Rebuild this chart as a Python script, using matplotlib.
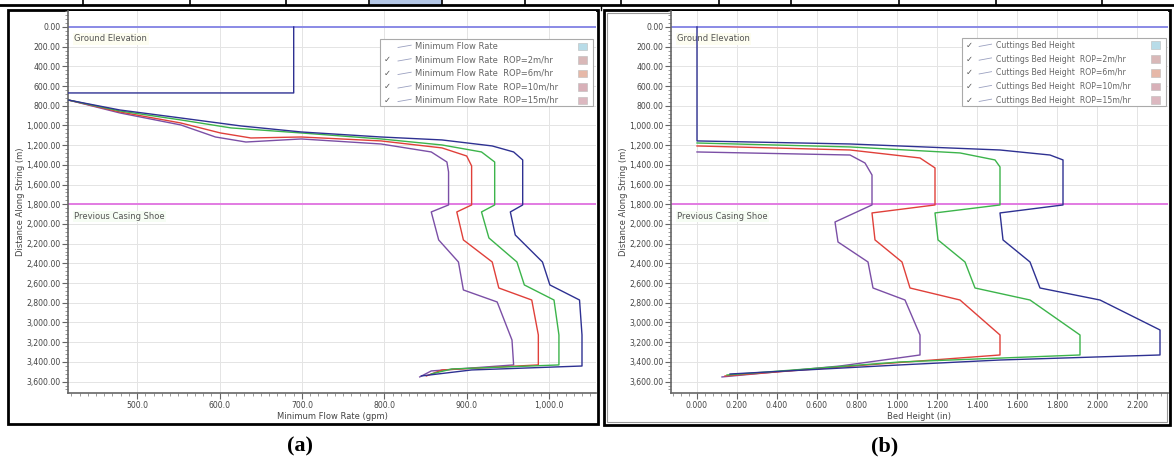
import matplotlib
matplotlib.use("Agg")
import matplotlib.pyplot as plt
from matplotlib.ticker import MultipleLocator, FuncFormatter
from matplotlib.patches import Rectangle

# ---- data: panel (a) minimum flow rate (gpm) vs distance along string (m)
rop_labels = ["ROP=2m/hr", "ROP=6m/hr", "ROP=10m/hr", "ROP=15m/hr"]

a_depth_rop2 = [741, 873, 995, 1117, 1168, 1137, 1188, 1269, 1371, 1472, 1807, 1878, 2162, 2386, 2670, 2792, 3178, 3431, 3492, 3553]
a_flow_rop2 = [416, 479, 553, 595, 632, 699, 796, 857, 876, 878, 878, 857, 866, 890, 896, 937, 955, 957, 857, 843]

a_depth_rop6 = [741, 863, 975, 1076, 1127, 1117, 1157, 1228, 1310, 1411, 1807, 1878, 2162, 2386, 2650, 2772, 3127, 3431, 3482, 3543]
a_flow_rop6 = [416, 479, 553, 601, 638, 699, 796, 870, 900, 906, 906, 888, 896, 931, 939, 979, 987, 987, 870, 851]

a_depth_rop10 = [741, 853, 944, 1025, 1076, 1137, 1198, 1269, 1371, 1807, 1878, 2142, 2386, 2619, 2772, 3127, 3431, 3472, 3523]
a_flow_rop10 = [416, 479, 553, 614, 699, 796, 870, 918, 934, 934, 918, 927, 961, 970, 1006, 1012, 1012, 882, 857]

a_depth_rop15 = [0, 670, 670, 720, 741, 843, 924, 1005, 1066, 1117, 1147, 1208, 1269, 1350, 1807, 1878, 2112, 2386, 2619, 2772, 3127, 3442, 3482, 3543]
a_flow_rop15 = [690, 690, 400, 400, 416, 479, 553, 626, 699, 796, 870, 931, 957, 968, 968, 953, 959, 992, 1001, 1037, 1040, 1040, 906, 845]

# ---- data: panel (b) cuttings bed height (in) vs distance along string (m)
b_depth_rop2 = [1269, 1300, 1381, 1503, 1807, 1980, 2183, 2386, 2650, 2772, 3127, 3330, 3442, 3553]
b_bed_rop2 = [0.0, 0.765, 0.84, 0.875, 0.875, 0.69, 0.705, 0.855, 0.88, 1.04, 1.115, 1.115, 0.715, 0.125]

b_depth_rop6 = [1208, 1249, 1330, 1431, 1807, 1888, 2162, 2386, 2650, 2772, 3127, 3330, 3421, 3543]
b_bed_rop6 = [0.0, 0.765, 1.115, 1.19, 1.19, 0.875, 0.89, 1.025, 1.065, 1.315, 1.515, 1.515, 0.915, 0.14]

b_depth_rop10 = [1178, 1218, 1279, 1350, 1421, 1807, 1888, 2162, 2386, 2650, 2772, 3127, 3330, 3401, 3533]
b_bed_rop10 = [0.0, 0.765, 1.315, 1.49, 1.515, 1.515, 1.19, 1.205, 1.34, 1.39, 1.665, 1.915, 1.915, 1.015, 0.15]

b_depth_rop15 = [0, 1157, 1188, 1249, 1300, 1350, 1807, 1888, 2162, 2386, 2650, 2772, 3076, 3330, 3381, 3431, 3523]
b_bed_rop15 = [0.0, 0.0, 0.765, 1.515, 1.765, 1.83, 1.83, 1.515, 1.53, 1.665, 1.715, 2.015, 2.315, 2.315, 1.515, 1.015, 0.165]

ground_elevation = 0
casing_shoe = 1800

line_colors = ["#7b4fa6", "#e0403a", "#3cb44b", "#2e3192"]
legend_swatches = ["#b8dce8", "#d9b8b8", "#e6b8a8", "#d8b0b8", "#dcb8c0"]

W, H = 1174, 461
fig = plt.figure(figsize=(W / 100, H / 100), dpi=100)

# page decorations (pixel coordinates overlay)
bg = fig.add_axes([0, 0, 1, 1], zorder=-5)
bg.set_xlim(0, W)
bg.set_ylim(H, 0)
bg.axis("off")
bg.plot([0, W], [5, 5], color="black", lw=2)
for xv in [83, 190, 286, 369, 442, 525, 621, 719, 791, 899, 996, 1102]:
    bg.plot([xv, xv], [0, 5], color="black", lw=1.2)
bg.add_patch(Rectangle((370, 0), 71, 4.5, color="#b4c7e7"))
bg.add_patch(Rectangle((8, 10), 590, 414, fill=False, ec="black", lw=2))
bg.add_patch(Rectangle((604, 10), 566, 415, fill=False, ec="black", lw=2))
bg.add_patch(Rectangle((607, 13), 560, 409, fill=False, ec="#999999", lw=0.8))
bg.plot([601, 601], [5, 10], color="black", lw=1)
bg.text(300, 446, "(a)", fontsize=16, fontweight="bold", family="Liberation Serif", ha="center", va="center")
bg.text(885, 446, "(b)", fontsize=16, fontweight="bold", family="Liberation Serif", ha="center", va="center")

FS = 5.6


def style_axes(ax, xlab):
    ax.set_ylim(3716, -162)
    ax.yaxis.set_major_locator(MultipleLocator(200))
    ax.yaxis.set_minor_locator(MultipleLocator(40))
    ax.yaxis.set_major_formatter(FuncFormatter(lambda v, p: "{:,.2f}".format(v)))
    ax.grid(True, which="major", color="#e4e4e4", lw=0.7)
    ax.set_axisbelow(True)
    for s in ["top", "right"]:
        ax.spines[s].set_visible(False)
    for s in ["left", "bottom"]:
        ax.spines[s].set_color("#666666")
        ax.spines[s].set_linewidth(1.2)
    ax.tick_params(which="major", length=4, width=0.8, color="#666666", labelsize=FS, labelcolor="#444444", pad=1.5)
    ax.tick_params(which="minor", length=2, width=0.6, color="#888888")
    ax.set_ylabel("Distance Along String (m)", fontsize=6, color="#444444", labelpad=1)
    ax.set_xlabel(xlab, fontsize=6, color="#444444", labelpad=2)
    ax.axhline(ground_elevation, color="#8a8ae6", lw=1.4, zorder=1)
    ax.axhline(casing_shoe, color="#e27be2", lw=1.4, zorder=1)
    ax.text(0.012, 0.927, "Ground Elevation", transform=ax.transAxes, fontsize=6, color="#555555",
            va="center", bbox=dict(fc="#fdfdf0", ec="none", pad=1))
    ax.text(0.012, 0.462, "Previous Casing Shoe", transform=ax.transAxes, fontsize=6, color="#555555",
            va="center", bbox=dict(fc="#f6fdf4", ec="none", pad=1))


def draw_legend(ax, x0, x1, y0, y1, names, checked, fs):
    ax.add_patch(Rectangle((x0, y0), x1 - x0, y1 - y0, transform=ax.transAxes, fc="white",
                           ec="#aaaaaa", lw=0.8, zorder=5, clip_on=False))
    n = len(names)
    for i, nm in enumerate(names):
        yy = y1 - (i + 0.55) * (y1 - y0) / n
        if checked[i]:
            ax.text(x0 + 0.008, yy, "\u2713", transform=ax.transAxes, fontsize=6, color="#555555",
                    va="center", zorder=6)
        ax.plot([x0 + 0.035, x0 + 0.06], [yy - 0.003, yy + 0.003], transform=ax.transAxes,
                color="#9aa0c0", lw=0.6, zorder=6, clip_on=False)
        ax.text(x0 + 0.068, yy, nm, transform=ax.transAxes, fontsize=fs, color="#666666",
                va="center", zorder=6)
        ax.add_patch(Rectangle((x1 - 0.03, yy - 0.01), 0.018, 0.02, transform=ax.transAxes,
                               fc=legend_swatches[i], ec="#bbbbbb", lw=0.4, zorder=6, clip_on=False))


# ---- panel (a)
ax1 = fig.add_axes([68 / W, 1 - 393 / H, 528 / W, 382 / H])
style_axes(ax1, "Minimum Flow Rate (gpm)")
ax1.set_xlim(416, 1057)
ax1.xaxis.set_major_locator(MultipleLocator(100))
ax1.xaxis.set_minor_locator(MultipleLocator(10))
ax1.xaxis.set_major_formatter(FuncFormatter(lambda v, p: "{:,.1f}".format(v)))
for d, f, c in [(a_depth_rop2, a_flow_rop2, line_colors[0]), (a_depth_rop6, a_flow_rop6, line_colors[1]),
                (a_depth_rop10, a_flow_rop10, line_colors[2]), (a_depth_rop15, a_flow_rop15, line_colors[3])]:
    ax1.plot(f, d, color=c, lw=1.0, zorder=3)
draw_legend(ax1, 0.59, 0.995, 0.75, 0.927,
            ["Minimum Flow Rate"] + ["Minimum Flow Rate  " + r for r in rop_labels],
            [False, True, True, True, True], 6.0)

# ---- panel (b)
ax2 = fig.add_axes([671 / W, 1 - 393 / H, 497 / W, 382 / H])
style_axes(ax2, "Bed Height (in)")
ax2.set_xlim(-0.13, 2.355)
ax2.xaxis.set_major_locator(MultipleLocator(0.2))
ax2.xaxis.set_minor_locator(MultipleLocator(0.04))
ax2.xaxis.set_major_formatter(FuncFormatter(lambda v, p: "{:.3f}".format(v)))
for d, b, c in [(b_depth_rop2, b_bed_rop2, line_colors[0]), (b_depth_rop6, b_bed_rop6, line_colors[1]),
                (b_depth_rop10, b_bed_rop10, line_colors[2]), (b_depth_rop15, b_bed_rop15, line_colors[3])]:
    ax2.plot(b, d, color=c, lw=1.0, zorder=3)
draw_legend(ax2, 0.585, 0.995, 0.75, 0.93,
            ["Cuttings Bed Height"] + ["Cuttings Bed Height  " + r for r in rop_labels],
            [True, True, True, True, True], 5.6)

fig.savefig("out.png", dpi=100)
